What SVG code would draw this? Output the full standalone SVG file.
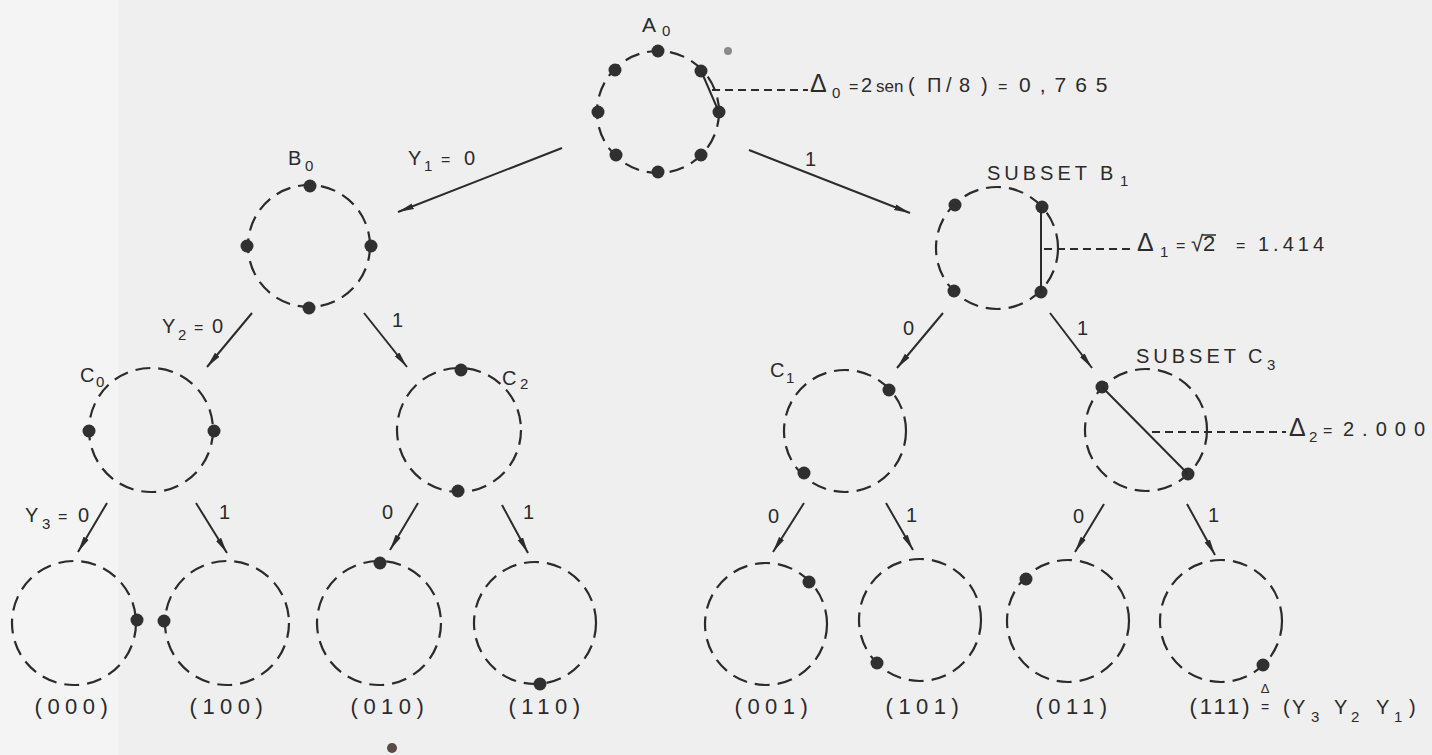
<svg xmlns="http://www.w3.org/2000/svg" width="1432" height="755" viewBox="0 0 1432 755">
<defs>
<style>
.ring{fill:none;stroke:#2b2b2b;stroke-width:2.2;stroke-dasharray:15 8}
.dot{fill:#303030}
.edge{stroke:#2b2b2b;stroke-width:2;fill:none}
.solid{stroke:#2b2b2b;stroke-width:2;fill:none}
.dash{stroke:#2b2b2b;stroke-width:2;fill:none;stroke-dasharray:8 5}
text{font-family:"Liberation Sans",Arial,sans-serif;fill:#2b2b2b;font-size:20px}
.sub{font-size:15px}
.eq{font-size:16px}
.leaf{font-size:22px;letter-spacing:5.5px;text-anchor:middle}
.sp{letter-spacing:4px}
.big{font-size:25px}
</style>
<marker id="ah" viewBox="0 0 16 8" refX="16" refY="4" markerWidth="16" markerHeight="8" markerUnits="userSpaceOnUse" orient="auto">
<path d="M0,1 L16,4 L0,7 z" fill="#2b2b2b"/>
</marker>
</defs>
<rect x="0" y="0" width="1432" height="755" fill="#efefef"/>
<rect x="0" y="0" width="118" height="755" fill="#f4f4f4"/>

<g id="connectors">
<line class="edge" x1="562" y1="148" x2="398" y2="212" marker-end="url(#ah)"/>
<line class="edge" x1="749" y1="150" x2="910" y2="213" marker-end="url(#ah)"/>
<line class="edge" x1="252" y1="313" x2="207" y2="367" marker-end="url(#ah)"/>
<line class="edge" x1="364" y1="313" x2="407" y2="367" marker-end="url(#ah)"/>
<line class="edge" x1="943" y1="313" x2="897" y2="368" marker-end="url(#ah)"/>
<line class="edge" x1="1050" y1="313" x2="1092" y2="368" marker-end="url(#ah)"/>
<line class="edge" x1="107" y1="503" x2="78" y2="552" marker-end="url(#ah)"/>
<line class="edge" x1="196" y1="503" x2="227" y2="553" marker-end="url(#ah)"/>
<line class="edge" x1="418" y1="503" x2="390" y2="550" marker-end="url(#ah)"/>
<line class="edge" x1="502" y1="505" x2="528" y2="553" marker-end="url(#ah)"/>
<line class="edge" x1="804" y1="503" x2="773" y2="552" marker-end="url(#ah)"/>
<line class="edge" x1="886" y1="503" x2="913" y2="550" marker-end="url(#ah)"/>
<line class="edge" x1="1104" y1="504" x2="1075" y2="552" marker-end="url(#ah)"/>
<line class="edge" x1="1187" y1="504" x2="1215" y2="555" marker-end="url(#ah)"/>
<text x="408" y="165">Y<tspan class="sub" x="424" y="171">1</tspan><tspan class="eq" x="441" y="165">=</tspan><tspan x="464" y="165">0</tspan></text>
<text x="805" y="166">1</text>
<text x="162" y="333">Y<tspan class="sub" x="178" y="340">2</tspan><tspan class="eq" x="194" y="333">=</tspan><tspan x="212" y="333">0</tspan></text>
<text x="392" y="327">1</text>
<text x="903" y="335">0</text>
<text x="1077" y="335">1</text>
<text x="25" y="522">Y<tspan class="sub" x="42" y="529">3</tspan><tspan class="eq" x="58" y="522">=</tspan><tspan x="78" y="522">0</tspan></text>
<text x="219" y="519">1</text>
<text x="382" y="519">0</text>
<text x="523" y="519">1</text>
<text x="768" y="523">0</text>
<text x="906" y="522">1</text>
<text x="1073" y="523">0</text>
<text x="1208" y="522">1</text>
</g>

<g id="A0">
<circle class="ring" cx="658" cy="112" r="61"/>
<circle class="dot" cx="658" cy="51" r="6.5"/>
<circle class="dot" cx="701" cy="71" r="6.5"/>
<circle class="dot" cx="719" cy="112" r="6.5"/>
<circle class="dot" cx="701" cy="155" r="6.5"/>
<circle class="dot" cx="658" cy="172" r="6.5"/>
<circle class="dot" cx="616" cy="155" r="6.5"/>
<circle class="dot" cx="598" cy="112" r="6.5"/>
<circle class="dot" cx="615" cy="70" r="6.5"/>
<line class="solid" x1="702" y1="73" x2="718" y2="110"/>
<line class="dash" x1="712" y1="90" x2="808" y2="90"/>
<text x="642" y="32" style="font-size:21px">A<tspan class="sub" x="662" y="36">0</tspan></text>
<text x="810" y="92"><tspan class="big">Δ</tspan><tspan class="sub" x="832" y="98">0</tspan><tspan class="eq" x="849" y="92">=</tspan><tspan x="861" y="92">2</tspan><tspan x="876" y="92" style="font-size:17px">sen</tspan><tspan x="908" y="92">(</tspan><tspan x="927" y="92">Π</tspan><tspan x="946" y="92">/</tspan><tspan x="959" y="92">8</tspan><tspan x="981" y="92">)</tspan><tspan class="eq" x="998" y="92">=</tspan><tspan x="1019" y="92" style="font-size:21px;letter-spacing:9px">0,765</tspan></text>
<circle cx="728" cy="51" r="4" fill="#8a8a8a"/>
</g>

<g id="B0">
<circle class="ring" cx="309" cy="246" r="61"/>
<circle class="dot" cx="310" cy="186" r="6.5"/>
<circle class="dot" cx="247" cy="246" r="6.5"/>
<circle class="dot" cx="371" cy="246" r="6.5"/>
<circle class="dot" cx="309" cy="308" r="6.5"/>
<text x="288" y="165">B<tspan class="sub" x="305" y="171">0</tspan></text>
</g>

<g id="B1">
<circle class="ring" cx="997" cy="248" r="61"/>
<circle class="dot" cx="955" cy="205" r="6.5"/>
<circle class="dot" cx="1042" cy="207" r="6.5"/>
<circle class="dot" cx="954" cy="291" r="6.5"/>
<circle class="dot" cx="1041" cy="292" r="6.5"/>
<line class="solid" x1="1041" y1="207" x2="1041" y2="292"/>
<line class="dash" x1="1044" y1="249" x2="1134" y2="249"/>
<text x="987" y="180" class="sp">SUBSET<tspan x="1100" y="180">B</tspan><tspan class="sub" x="1120" y="186">1</tspan></text>
<text x="1137" y="251"><tspan class="big">Δ</tspan><tspan class="sub" x="1160" y="257">1</tspan><tspan class="eq" x="1176" y="251">=</tspan><tspan x="1191" y="251" style="font-size:22px">√2</tspan><tspan class="eq" x="1236" y="251">=</tspan><tspan x="1258" y="251" style="letter-spacing:4px">1.414</tspan></text>
<line x1="1202" y1="235" x2="1216" y2="235" stroke="#2b2b2b" stroke-width="1.5"/>
</g>

<g id="C0">
<circle class="ring" cx="151" cy="430" r="62"/>
<circle class="dot" cx="89" cy="431" r="6.5"/>
<circle class="dot" cx="214" cy="431" r="6.5"/>
<text x="80" y="382">C<tspan class="sub" x="96" y="387">0</tspan></text>
</g>

<g id="C2">
<circle class="ring" cx="459" cy="430" r="62"/>
<circle class="dot" cx="461" cy="370" r="6.5"/>
<circle class="dot" cx="458" cy="491" r="6.5"/>
<text x="502" y="385">C<tspan class="sub" x="520" y="389">2</tspan></text>
</g>

<g id="C1">
<circle class="ring" cx="845" cy="431" r="61"/>
<circle class="dot" cx="889" cy="390" r="6.5"/>
<circle class="dot" cx="804" cy="473" r="6.5"/>
<text x="770" y="377">C<tspan class="sub" x="786" y="383">1</tspan></text>
</g>

<g id="C3">
<circle class="ring" cx="1146" cy="430" r="61"/>
<circle class="dot" cx="1102" cy="387" r="6.5"/>
<circle class="dot" cx="1188" cy="474" r="6.5"/>
<line class="solid" x1="1102" y1="387" x2="1188" y2="474"/>
<line class="dash" x1="1152" y1="432" x2="1286" y2="432"/>
<text x="1136" y="363" class="sp">SUBSET<tspan x="1248" y="363">C</tspan><tspan class="sub" x="1267" y="370">3</tspan></text>
<text x="1289" y="436"><tspan class="big">Δ</tspan><tspan class="sub" x="1309" y="442">2</tspan><tspan class="eq" x="1323" y="436">=</tspan><tspan x="1343" y="436" style="letter-spacing:8px">2.000</tspan></text>
</g>

<g id="L000">
<circle class="ring" cx="74" cy="623" r="62"/>
<circle class="dot" cx="137" cy="620" r="6.5"/>
<text class="leaf" x="74" y="714">(000)</text>
</g>
<g id="L100">
<circle class="ring" cx="227" cy="623" r="62"/>
<circle class="dot" cx="164" cy="621" r="6.5"/>
<text class="leaf" x="229" y="714">(100)</text>
</g>
<g id="L010">
<circle class="ring" cx="379" cy="623" r="62"/>
<circle class="dot" cx="380" cy="563" r="6.5"/>
<text class="leaf" x="390" y="714">(010)</text>
<circle cx="392" cy="748" r="5" fill="#5a4a4a"/>
</g>
<g id="L110">
<circle class="ring" cx="535" cy="623" r="61"/>
<circle class="dot" cx="540" cy="684" r="6.5"/>
<text class="leaf" x="547" y="714">(110)</text>
</g>
<g id="L001">
<circle class="ring" cx="766" cy="624" r="61"/>
<circle class="dot" cx="809" cy="582" r="6.5"/>
<text class="leaf" x="774" y="714">(001)</text>
</g>
<g id="L101">
<circle class="ring" cx="920" cy="620" r="61"/>
<circle class="dot" cx="877" cy="663" r="6.5"/>
<text class="leaf" x="925" y="714">(101)</text>
</g>
<g id="L011">
<circle class="ring" cx="1068" cy="621" r="61"/>
<circle class="dot" cx="1026" cy="579" r="6.5"/>
<text class="leaf" x="1074" y="714">(011)</text>
</g>
<g id="L111">
<circle class="ring" cx="1221" cy="621" r="61"/>
<circle class="dot" cx="1263" cy="665" r="6.5"/>
<text class="leaf" x="1221" y="714" style="letter-spacing:3px">(111)</text>
<text x="1265" y="693" style="font-size:13px;text-anchor:middle">Δ</text>
<text x="1265" y="712" style="font-size:14px;text-anchor:middle">=</text>
<text x="1283" y="714">(<tspan x="1292" y="714">Y</tspan><tspan class="sub" x="1311" y="722">3</tspan><tspan x="1334" y="714">Y</tspan><tspan class="sub" x="1351" y="722">2</tspan><tspan x="1376" y="714">Y</tspan><tspan class="sub" x="1394" y="722">1</tspan><tspan x="1409" y="714">)</tspan></text>
</g>
</svg>
